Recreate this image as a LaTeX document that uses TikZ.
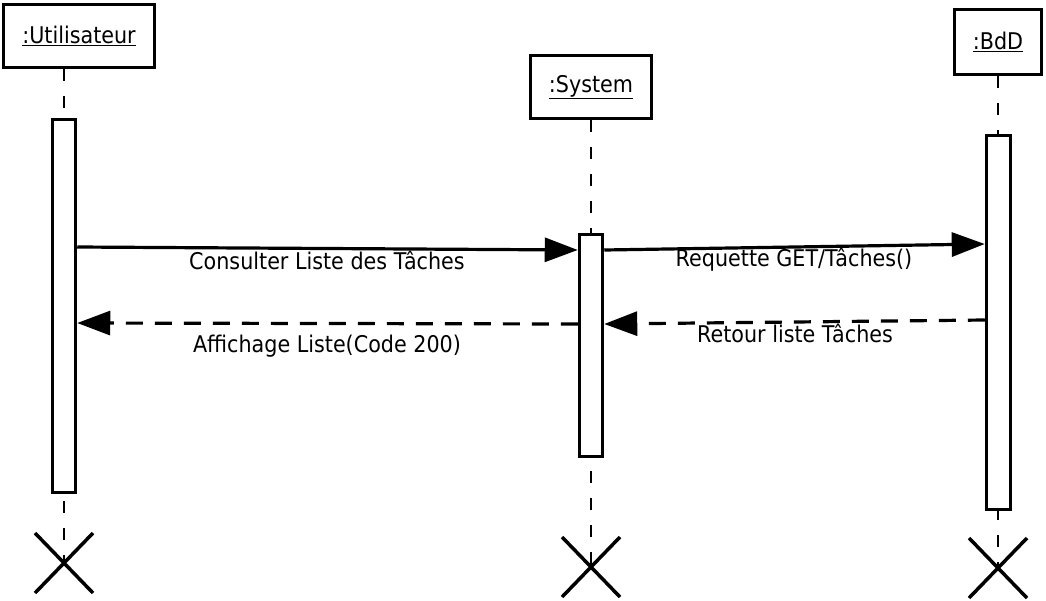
\documentclass[tikz,border=0pt]{standalone}
\usepackage{fontspec}
\setmainfont{DejaVu Sans}[FakeStretch=0.9]
\usetikzlibrary{arrows.meta}
\begin{document}
\begin{tikzpicture}[x=1pt,y=-1pt,
  obj/.style={draw,line width=3.5pt,fill=white,inner sep=0pt,font=\fontsize{23}{26}\selectfont},
  act/.style={draw,line width=3.5pt,fill=white,inner sep=0pt,minimum width=23pt,anchor=north},
  life/.style={line width=1.6pt,dash pattern=on 12pt off 15pt},
  msg/.style={line width=3.2pt,-{Triangle[length=33pt,width=24pt]}},
  ret/.style={msg,dash pattern=on 17pt off 12pt},
  lbl/.style={font=\fontsize{23}{26}\selectfont,inner sep=0pt},
  kill/.style={line width=3.5pt}]
\useasboundingbox (0,0) rectangle (1046,600);
% objects
\node[obj,minimum width=151pt,minimum height=63pt] (u) at (79,36) {\underline{:Utilisateur}};
\node[obj,minimum width=121pt,minimum height=63pt] (s) at (591,87) {\underline{:System}};
\node[obj,minimum width=87pt,minimum height=65pt] (b) at (998,42) {\underline{:BdD}};
% destruction points
\coordinate (xu) at (64,563);
\coordinate (xs) at (591,567);
\coordinate (xb) at (998,568);
% lifelines
\draw[life] (u.south -| xu) -- (xu);
\draw[life] (s.south) -- (xs);
\draw[life] (b.south) -- (xb);
% activation bars
\node[act,minimum height=373pt] (au) at (64,117.5) {};
\node[act,minimum height=222pt] (as) at (591,232.5) {};
\node[act,minimum width=24pt,minimum height=374pt] (ab) at (998.5,133.5) {};
% destruction marks
\draw[kill] (xu) ++(-29,-30) -- ++(58,60) (xu) ++(29,-30) -- ++(-58,60);
\draw[kill] (xs) ++(-29,-30) -- ++(58,60) (xs) ++(29,-30) -- ++(-58,60);
\draw[kill] (xb) ++(-29,-30) -- ++(58,60) (xb) ++(29,-30) -- ++(-58,60);
% messages
\draw[msg] (au.east |- 0,247) -- (as.west |- 0,250);
\draw[msg] (as.east |- 0,250) -- (ab.west |- 0,244);
\draw[ret] (ab.west |- 0,320) -- (as.east |- 0,324);
\draw[ret] (as.west |- 0,324) -- (au.east |- 0,323);
% labels
\node[lbl] (l1) at (327,260) {Consulter Liste des Tâches};
\node[lbl] (l2) at (794,260) {Requette GET/Tâches()};
\node[lbl] (l3) at (795,333) {Retour liste Tâches};
\node[lbl] (l4) at (327,346) {Affichage Liste(Code 200)};
\end{tikzpicture}
\end{document}
